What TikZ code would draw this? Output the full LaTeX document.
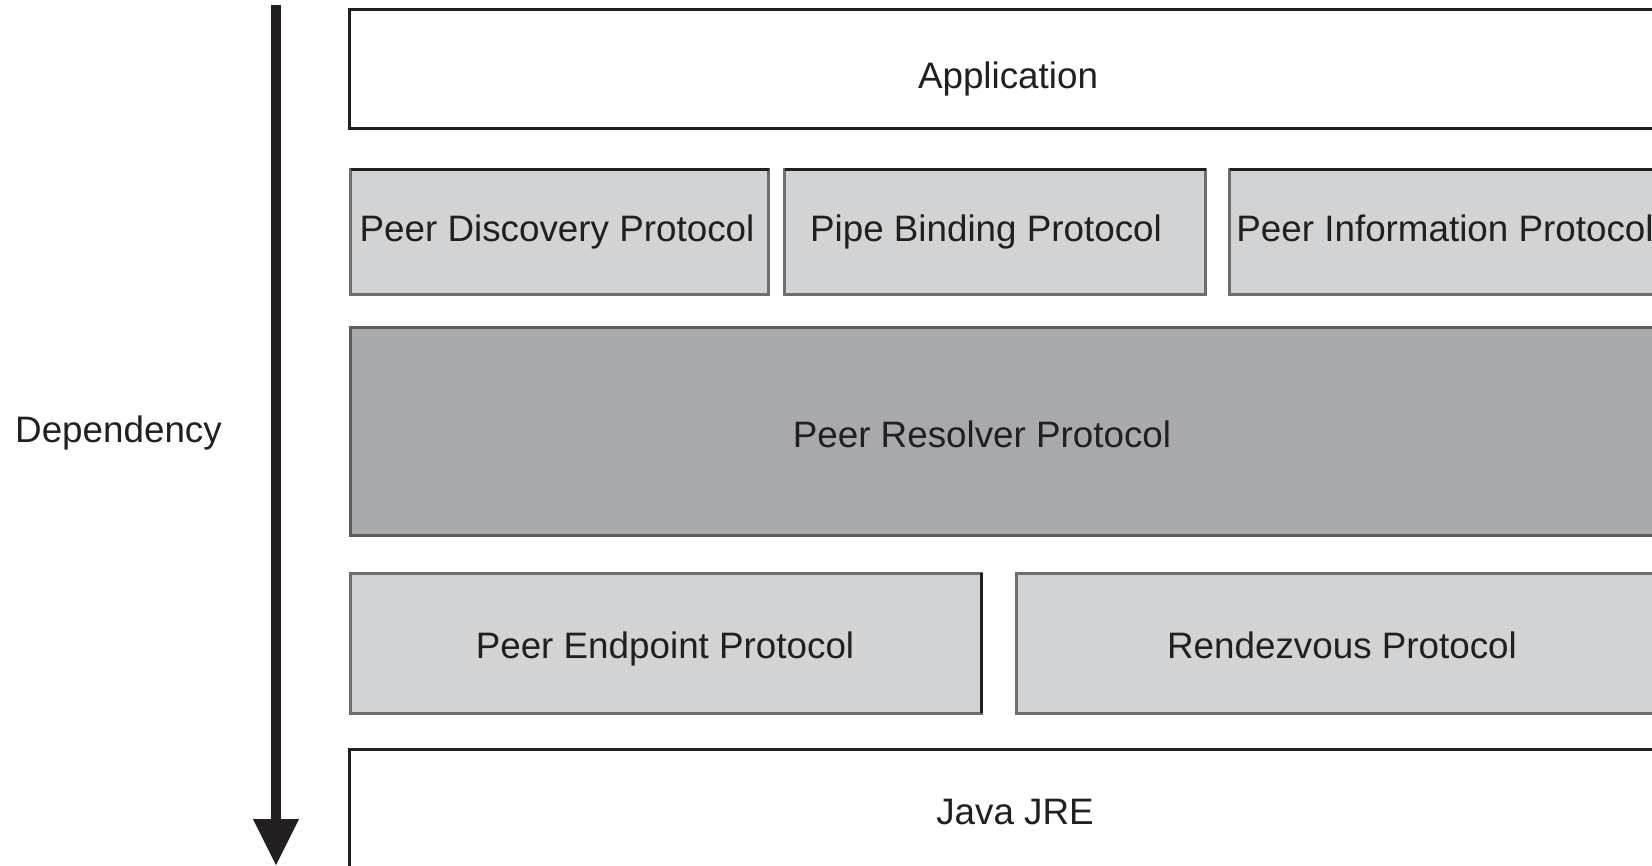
\documentclass[tikz,border=0pt]{standalone}
\usepackage{fontspec}
\setmainfont{Liberation Sans}
\usetikzlibrary{arrows.meta,fit}

\definecolor{ink}{HTML}{231F20}
\definecolor{lightfill}{HTML}{D1D3D4}
\definecolor{darkfill}{HTML}{A7A9AC}
\definecolor{edgegray}{HTML}{6D6E70}

\tikzset{
  layer/.style={inner sep=0pt, outer sep=0pt, line width=1.5pt},
  plainbox/.style={layer, draw=ink, fill=white},
  protobox/.style={layer, draw=edgegray, fill=lightfill},
  corebox/.style={layer, draw=edgegray!85!black, fill=darkfill},
  lbl/.style={inner sep=0pt, text=ink, text height=13.2pt, text depth=0pt,
    font=\fontsize{18.4pt}{22pt}\selectfont},
  deparrow/.style={draw=ink, line width=5pt,
    -{Triangle[length=23.5pt,width=21.5pt]}},
}

\begin{document}
\begin{tikzpicture}[x=0.5pt,y=-0.5pt]
  \useasboundingbox (0,0) rectangle (1652,866);
  \clip (0,0) rectangle (1652,866);

  % stack of layers
  \node[plainbox, fit={(349.5,9.5) (1720,128.5)}] (app) {};
  \node[protobox, fit={(350.5,169.5) (768.5,294.5)}] (disc) {};
  \node[protobox, fit={(784.5,169.5) (1205.5,294.5)}] (pipe) {};
  \node[protobox, fit={(1229.5,169.5) (1720,294.5)}] (info) {};
  \node[corebox, fit={(350.5,327) (1720,535)}] (resolver) {};
  \node[protobox, fit={(350.5,573) (981,713)}] (endpoint) {};
  \node[protobox, fit={(1016,573) (1720,713)}] (rendezvous) {};
  \node[plainbox, fit={(349.5,749.5) (1720,900)}] (jre) {};

  % darker top edges on the protocol row
  \draw[ink, line width=1.5pt] (disc.north west) -- (disc.north east);
  \draw[ink, line width=1.5pt] (pipe.north west) -- (pipe.north east);
  \draw[ink, line width=1.5pt] (info.north west) -- (info.north east);
  \draw[ink, line width=1.5pt] (endpoint.north east) -- (endpoint.south east);

  % layer names
  \node[lbl] (appText) at (1008,75) {Application};
  \node[lbl] (discText) at (557,228) {Peer Discovery Protocol};
  \node[lbl] (pipeText) at (986,228) {Pipe Binding Protocol};
  \node[lbl, anchor=west] (infoText) at (1236,228) {Peer Information Protocol};
  \node[lbl] (resolverText) at (982,434) {Peer Resolver Protocol};
  \node[lbl] (endpointText) at (665,645) {Peer Endpoint Protocol};
  \node[lbl] (rendezvousText) at (1342,645) {Rendezvous Protocol};
  \node[lbl] (jreText) at (1015,811) {Java JRE};

  % dependency direction
  \coordinate (depTop) at (276,5);
  \coordinate (depTip) at (276,866);
  \draw[deparrow] (depTop) -- (depTip);
  \node[lbl] (depText) at (118.5,429) {Dependency};
\end{tikzpicture}
\end{document}
